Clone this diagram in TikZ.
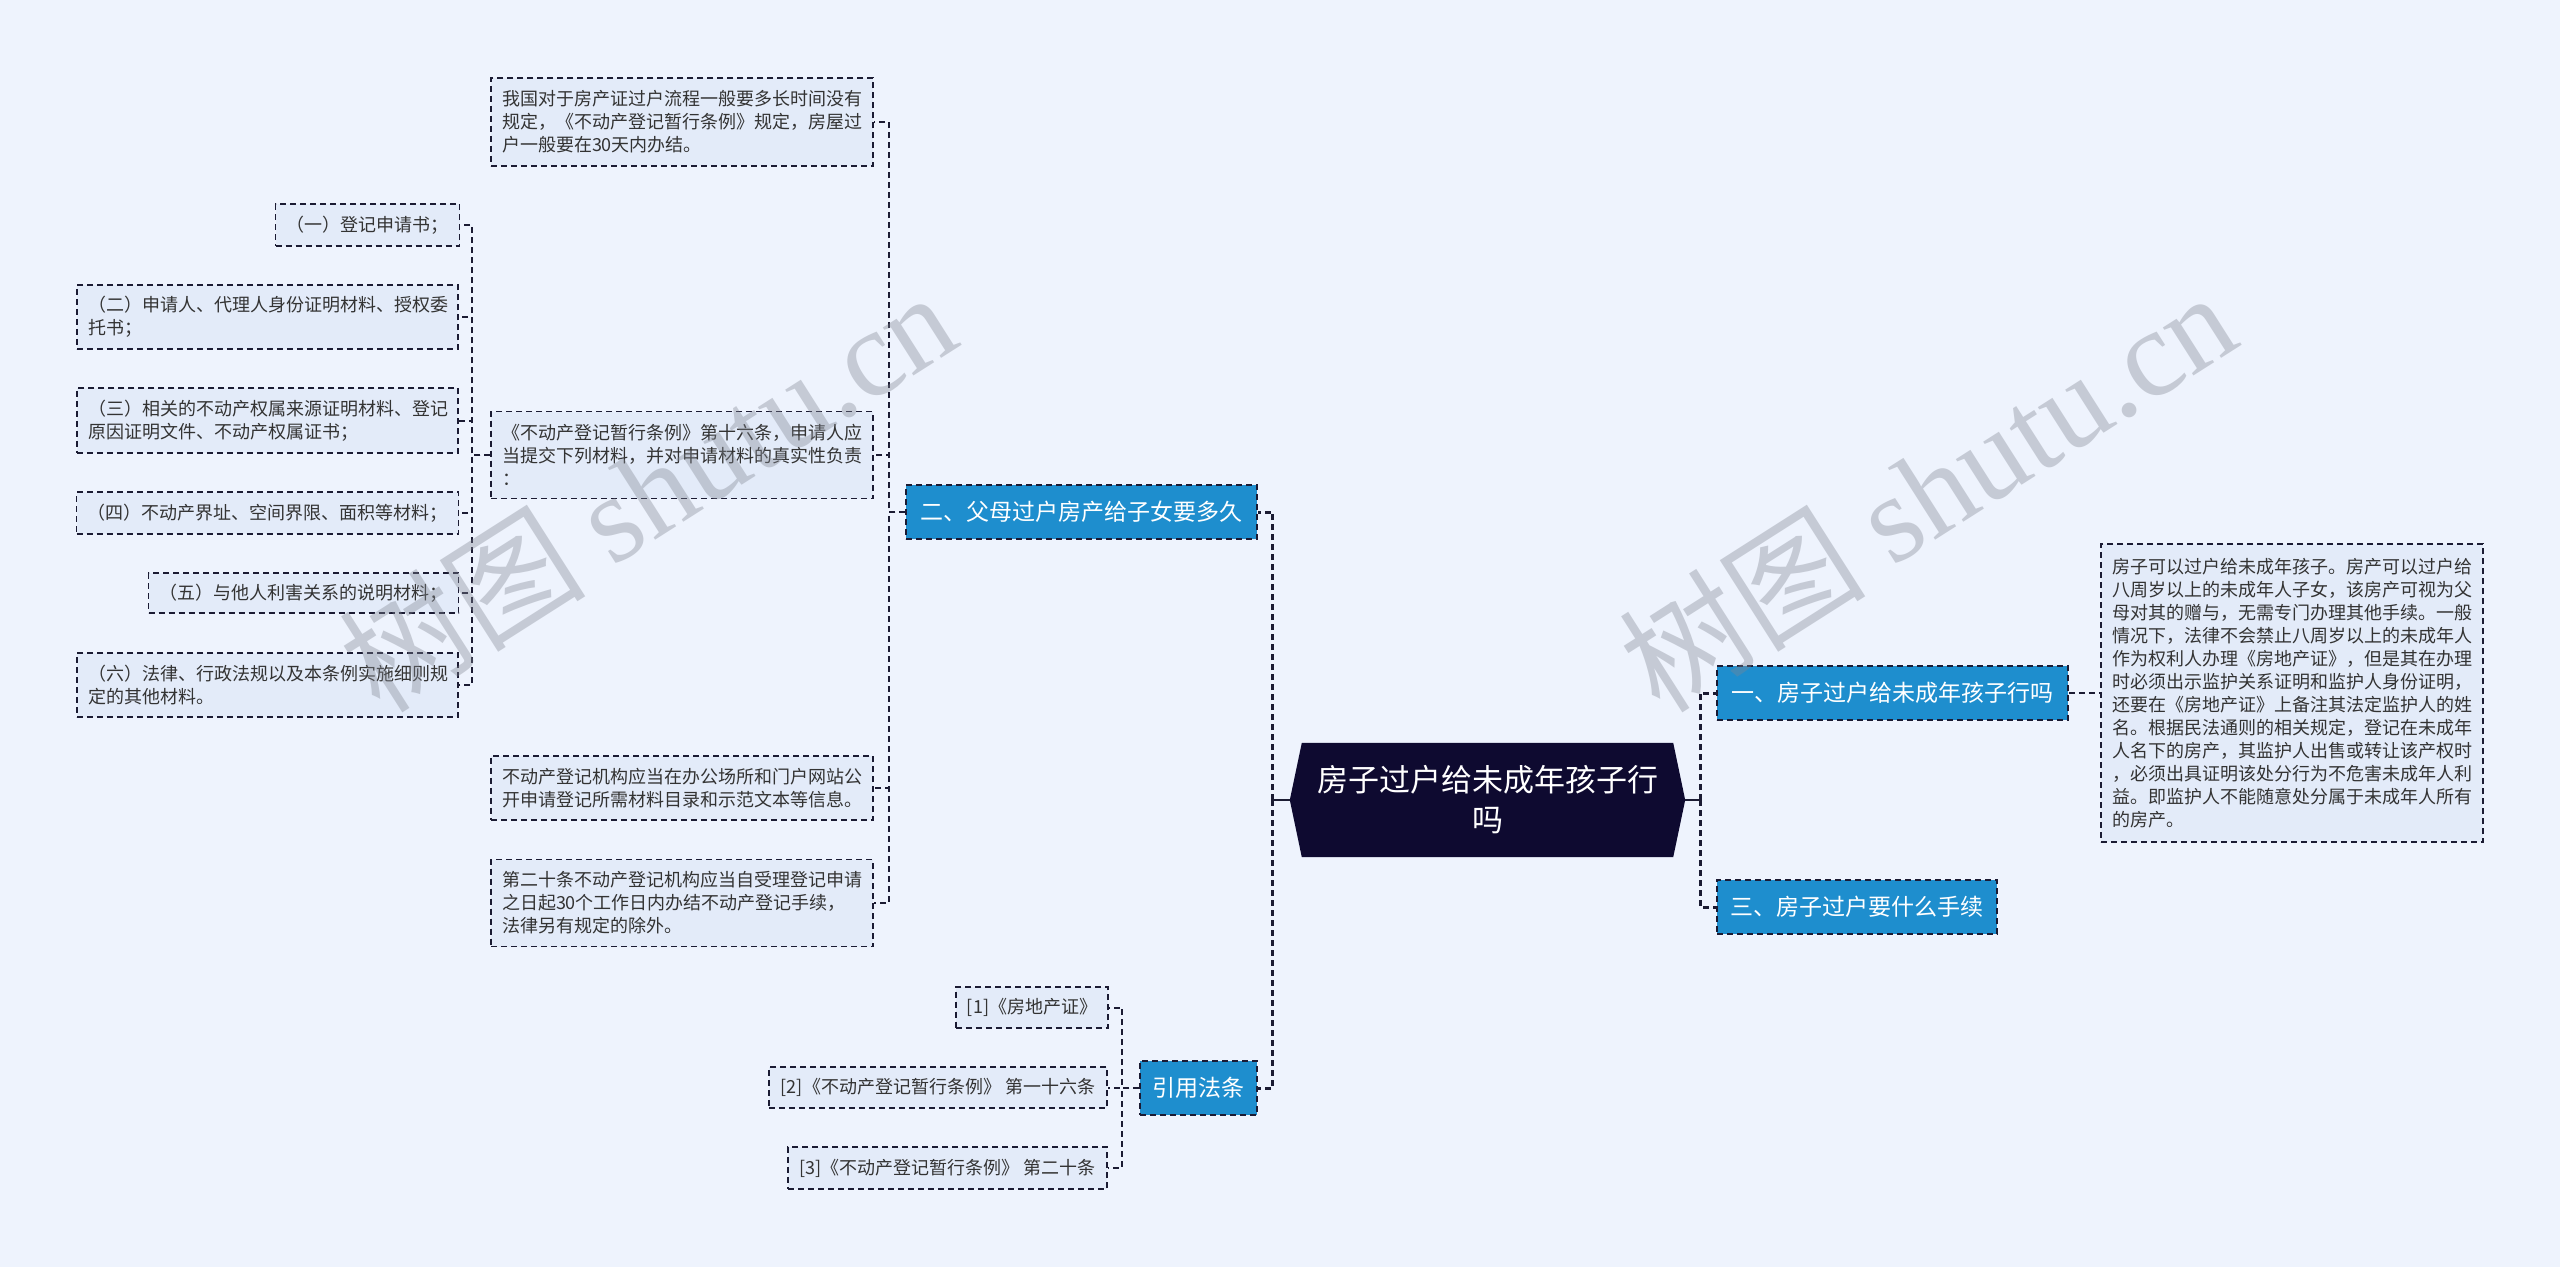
\documentclass[tikz,border=0pt]{standalone}
\usepackage{fontspec}
\setmainfont{Noto Sans CJK SC}
\newfontfamily\wmserif{Liberation Serif}
\usetikzlibrary{calc,backgrounds}
\definecolor{bg}{HTML}{EEF3FD}
\definecolor{boxfill}{HTML}{E3EBF9}
\definecolor{edge}{HTML}{1B1B33}
\definecolor{branchfill}{HTML}{1E8ECE}
\definecolor{rootfill}{HTML}{0E0A30}
\definecolor{txtc}{HTML}{333333}
\definecolor{wm}{HTML}{808591}
\begin{document}
\begin{tikzpicture}[x=1pt,y=-1pt,
 textbox/.style={draw=edge, line width=1.6pt, dash pattern=on 6pt off 4pt, fill=boxfill, text=txtc, font=\fontsize{18}{23}\selectfont, inner xsep=11pt, inner ysep=0pt},
 multi/.style={textbox, align=left, text width=#1},
 single/.style={textbox, align=center},
 branch/.style={draw=edge, line width=1.6pt, dash pattern=on 6pt off 4pt, fill=branchfill, text=white, font=\fontsize{23}{28}\selectfont, inner sep=0pt, align=center, minimum height=54pt},
 conn/.style={draw=edge, line width=2pt, dash pattern=on 6pt off 4pt},
 spine/.style={draw=edge, line width=3pt, dash pattern=on 6pt off 4pt},
 wmark/.style={rotate=32.5, anchor=base west, text=wm, opacity=0.37, font=\fontsize{124}{124}\selectfont, inner sep=0pt},
]
\begin{pgfonlayer}{background}
\fill[bg] (0,0) rectangle (2560,1267);
\end{pgfonlayer}
\useasboundingbox (0,0) rectangle (2560,1267);

% root
\node[text=white, font=\fontsize{31}{40}\selectfont, align=center, minimum width=371pt, minimum height=114pt, inner sep=0pt] (root) at (1487.5,800) {房子过户给未成年孩子行\\吗};
\begin{pgfonlayer}{background}
\fill[rootfill] (root.north west) -- (root.north east) -- ($(root.east)+(12,0)$) -- (root.south east) -- (root.south west) -- ($(root.west)+(-12,0)$) -- cycle;
\end{pgfonlayer}
\coordinate (rootL) at ($(root.west)+(-12,0)$);
\coordinate (rootR) at ($(root.east)+(12,0)$);

% branches
\node[branch, minimum width=351pt] (b1) at (1892.5,693) {一、房子过户给未成年孩子行吗};
\node[branch, minimum width=280pt] (b3) at (1857,907) {三、房子过户要什么手续};
\node[branch, minimum width=351pt] (b2) at (1081.5,512) {二、父母过户房产给子女要多久};
\node[branch, minimum width=117pt] (ref) at (1198.5,1088) {引用法条};

% right text
\node[multi=360pt, minimum height=298pt] (rt) at (2292,693) {房子可以过户给未成年孩子。房产可以过户给\\八周岁以上的未成年人子女，该房产可视为父\\母对其的赠与，无需专门办理其他手续。一般\\情况下，法律不会禁止八周岁以上的未成年人\\作为权利人办理《房地产证》，但是其在办理\\时必须出示监护关系证明和监护人身份证明，\\还要在《房地产证》上备注其法定监护人的姓\\名。根据民法通则的相关规定，登记在未成年\\人名下的房产，其监护人出售或转让该产权时\\，必须出具证明该处分行为不危害未成年人利\\益。即监护人不能随意处分属于未成年人所有\\的房产。};

% branch 2 children
\node[multi=360pt, minimum height=88pt] (t1) at (682,122) {我国对于房产证过户流程一般要多长时间没有\\规定，《不动产登记暂行条例》规定，房屋过\\户一般要在30天内办结。};
\node[multi=360pt, minimum height=87pt] (t2) at (682,455) {《不动产登记暂行条例》第十六条，申请人应\\当提交下列材料，并对申请材料的真实性负责\\：};
\node[multi=360pt, minimum height=64pt] (t3) at (682,788) {不动产登记机构应当在办公场所和门户网站公\\开申请登记所需材料目录和示范文本等信息。};
\node[multi=360pt, minimum height=87pt] (t4) at (682,903) {第二十条不动产登记机构应当自受理登记申请\\之日起30个工作日内办结不动产登记手续，\\法律另有规定的除外。};

% t2 children
\node[single, minimum width=181pt, minimum height=42pt] (s1) at (367.5,225) {（一）登记申请书；};
\node[multi=359pt, minimum height=64pt] (s2) at (267.5,317) {（二）申请人、代理人身份证明材料、授权委\\托书；};
\node[multi=359pt, minimum height=65pt] (s3) at (267.5,420.5) {（三）相关的不动产权属来源证明材料、登记\\原因证明文件、不动产权属证书；};
\node[single, minimum width=381pt, minimum height=42pt] (s4) at (267.5,513) {（四）不动产界址、空间界限、面积等材料；};
\node[single, minimum width=309pt, minimum height=40pt] (s5) at (303.5,593) {（五）与他人利害关系的说明材料；};
\node[multi=359pt, minimum height=64pt] (s6) at (267.5,685) {（六）法律、行政法规以及本条例实施细则规\\定的其他材料。};

% ref children
\node[single, minimum width=150pt, minimum height=41pt] (r1) at (1032,1007.5) {[1]《房地产证》};
\node[single, minimum width=338pt, minimum height=41pt] (r2) at (938,1087.5) {[2]《不动产登记暂行条例》 第一十六条};
\node[single, minimum width=319pt, minimum height=42pt] (r3) at (947.5,1168) {[3]《不动产登记暂行条例》 第二十条};

% connectors from root
\draw[edge, line width=2pt] (rootL) -- ++(-17,0) coordinate (ls);
\draw[spine] (ls) |- (b2.east);
\draw[spine] (ls) |- (ref.east);
\draw[edge, line width=2pt] (rootR) -- ++(15,0) coordinate (rs);
\draw[spine] (rs) |- (b1.west);
\draw[spine] (rs) |- (b3.west);

\draw[conn] (b1.east) -- (rt.west);

\foreach \c in {t1,t2,t3,t4} \draw[conn] (b2.west) -- ++(-16,0) |- (\c.east);
\foreach \c in {s1,s2,s3,s4,s5,s6} \draw[conn] (t2.west) -- ++(-18,0) |- (\c.east);
\foreach \c in {r1,r2,r3} \draw[conn] (ref.west) -- ++(-17,0) |- (\c.east);

% watermarks
\node[wmark] (wm1) at (380,716) {树图 {\wmserif shutu.cn}};
\node[wmark] (wm2) at (1660,716) {树图 {\wmserif shutu.cn}};
\end{tikzpicture}
\end{document}
